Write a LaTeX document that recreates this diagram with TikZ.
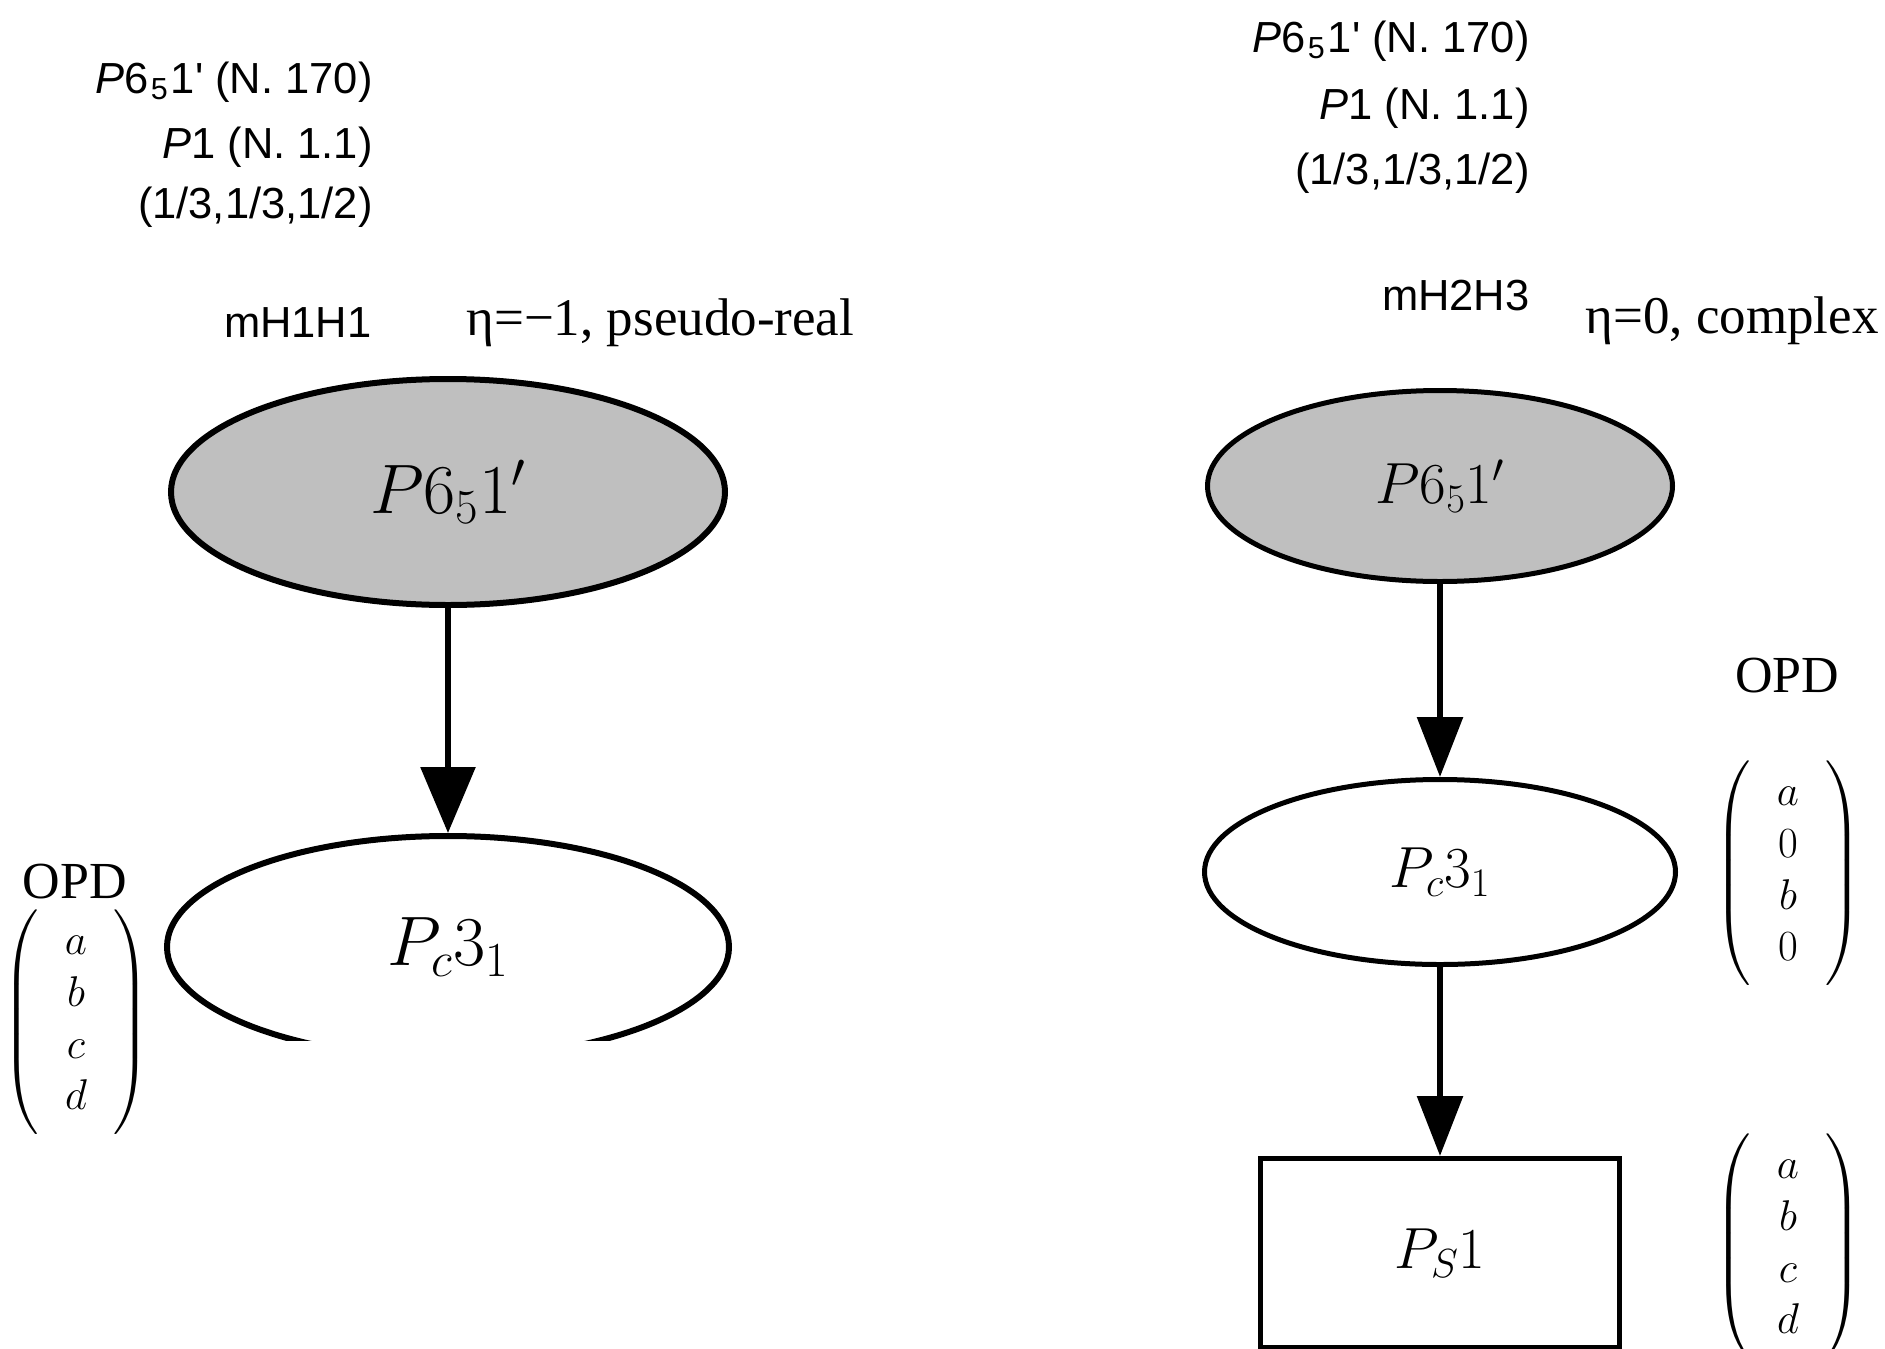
\RequirePackage{fix-cm}
\documentclass[tikz,border=0pt]{standalone}
\usepackage{amsmath}
\usepackage[no-math]{fontspec}
\newfontfamily\labelsans{Liberation Sans}
\newfontfamily\labelserif{Liberation Serif}
\usetikzlibrary{arrows.meta, positioning, shapes.geometric}

% column vector with the wide, tall brackets of the OPD labels
\newcommand{\opdvec}[1]{$\delimiterfactor=970 \delimitershortfall=0pt
  \left(\begin{array}{@{\hspace{13pt}}c@{\hspace{13pt}}} #1 \end{array}\right)$}
\newcommand{\grpname}{\textit{P}6\kern.05em\textsubscript{5}\kern.05em1\textquotesingle}

\tikzset{
  hdr/.style={font=\labelsans\fontsize{21.75}{25}\selectfont, anchor=base east, inner sep=0pt},
  eta/.style={font=\labelserif\fontsize{26.5}{32}\selectfont, anchor=base west, inner sep=0pt},
  opd/.style={font=\labelserif\fontsize{26}{31}\selectfont, anchor=base, inner sep=0pt},
  vec/.style={font=\fontsize{21.5}{25.8}\selectfont, inner sep=0pt},
  bignode/.style={draw, ellipse, line width=3pt, inner sep=0pt,
    font=\fontsize{35}{42}\selectfont},
  smallnode/.style={draw, line width=2.5pt, inner sep=0pt,
    font=\fontsize{29}{35}\selectfont},
  link/.style={-{Triangle[length=30pt, width=22.5pt]}, line width=3pt},
  biglink/.style={-{Triangle[length=33pt, width=27pt]}, line width=3pt},
}

\begin{document}
\begin{tikzpicture}[x=0.5pt, y=-0.5pt]
  \useasboundingbox (0,0) rectangle (1885,1349);

  % Left: mH1H1
  \node[hdr] (lhA) at (373, 93) {\grpname{} (N. 170)};
  \node[hdr] (lhB) at (373, 158) {\textit{P}1 (N. 1.1)};
  \node[hdr] (lhC) at (373, 218) {(1/3,1/3,1/2)};
  \node[hdr] (lirrep) at (372, 337) {mH1H1};
  \node[eta] (leta) at (466, 335) {η=−1, pseudo-real};

  \node[bignode, fill=gray!50, minimum width=277pt, minimum height=113pt]
    (lparent) at (448, 492) {$P6_51'$};
  \begin{scope}
    \clip (0,0) rectangle (1885,1040);
    \node[bignode, minimum width=281pt, minimum height=111pt]
      (lchild) at (448, 947) {$P_c3_1$};
  \end{scope}
  \draw[biglink] (lparent) -- (lchild);

  \node[opd] (lopd) at (75, 898) {OPD};
  \node[vec] (lvec) at (76, 1022) {\opdvec{a\\ b\\ c\\ d}};

  % Right: mH2H3
  \node[hdr] (rhA) at (1530, 52) {\grpname{} (N. 170)};
  \node[hdr] (rhB) at (1530, 119) {\textit{P}1 (N. 1.1)};
  \node[hdr] (rhC) at (1530, 184) {(1/3,1/3,1/2)};
  \node[hdr] (rirrep) at (1530, 310) {mH2H3};
  \node[eta] (reta) at (1585, 333) {η=0, complex};

  \node[smallnode, ellipse, fill=gray!50, minimum width=232.5pt, minimum height=95.5pt]
    (rparent) at (1440, 486) {$P6_51'$};
  \node[smallnode, ellipse, minimum width=235.5pt, minimum height=92.5pt]
    (rchild) at (1440, 872) {$P_c3_1$};
  \node[smallnode, rectangle, minimum width=179.5pt, minimum height=94.5pt]
    (rleaf) at (1440, 1253) {$P_S1$};
  \draw[link] (rparent) -- (rchild);
  \draw[link] (rchild) -- (rleaf);

  \node[opd] (ropd) at (1787, 692) {OPD};
  \node[vec] (rvecA) at (1788, 873) {\opdvec{a\\ 0\\ b\\ 0}};
  \node[vec] (rvecB) at (1788, 1246) {\opdvec{a\\ b\\ c\\ d}};
\end{tikzpicture}
\end{document}
